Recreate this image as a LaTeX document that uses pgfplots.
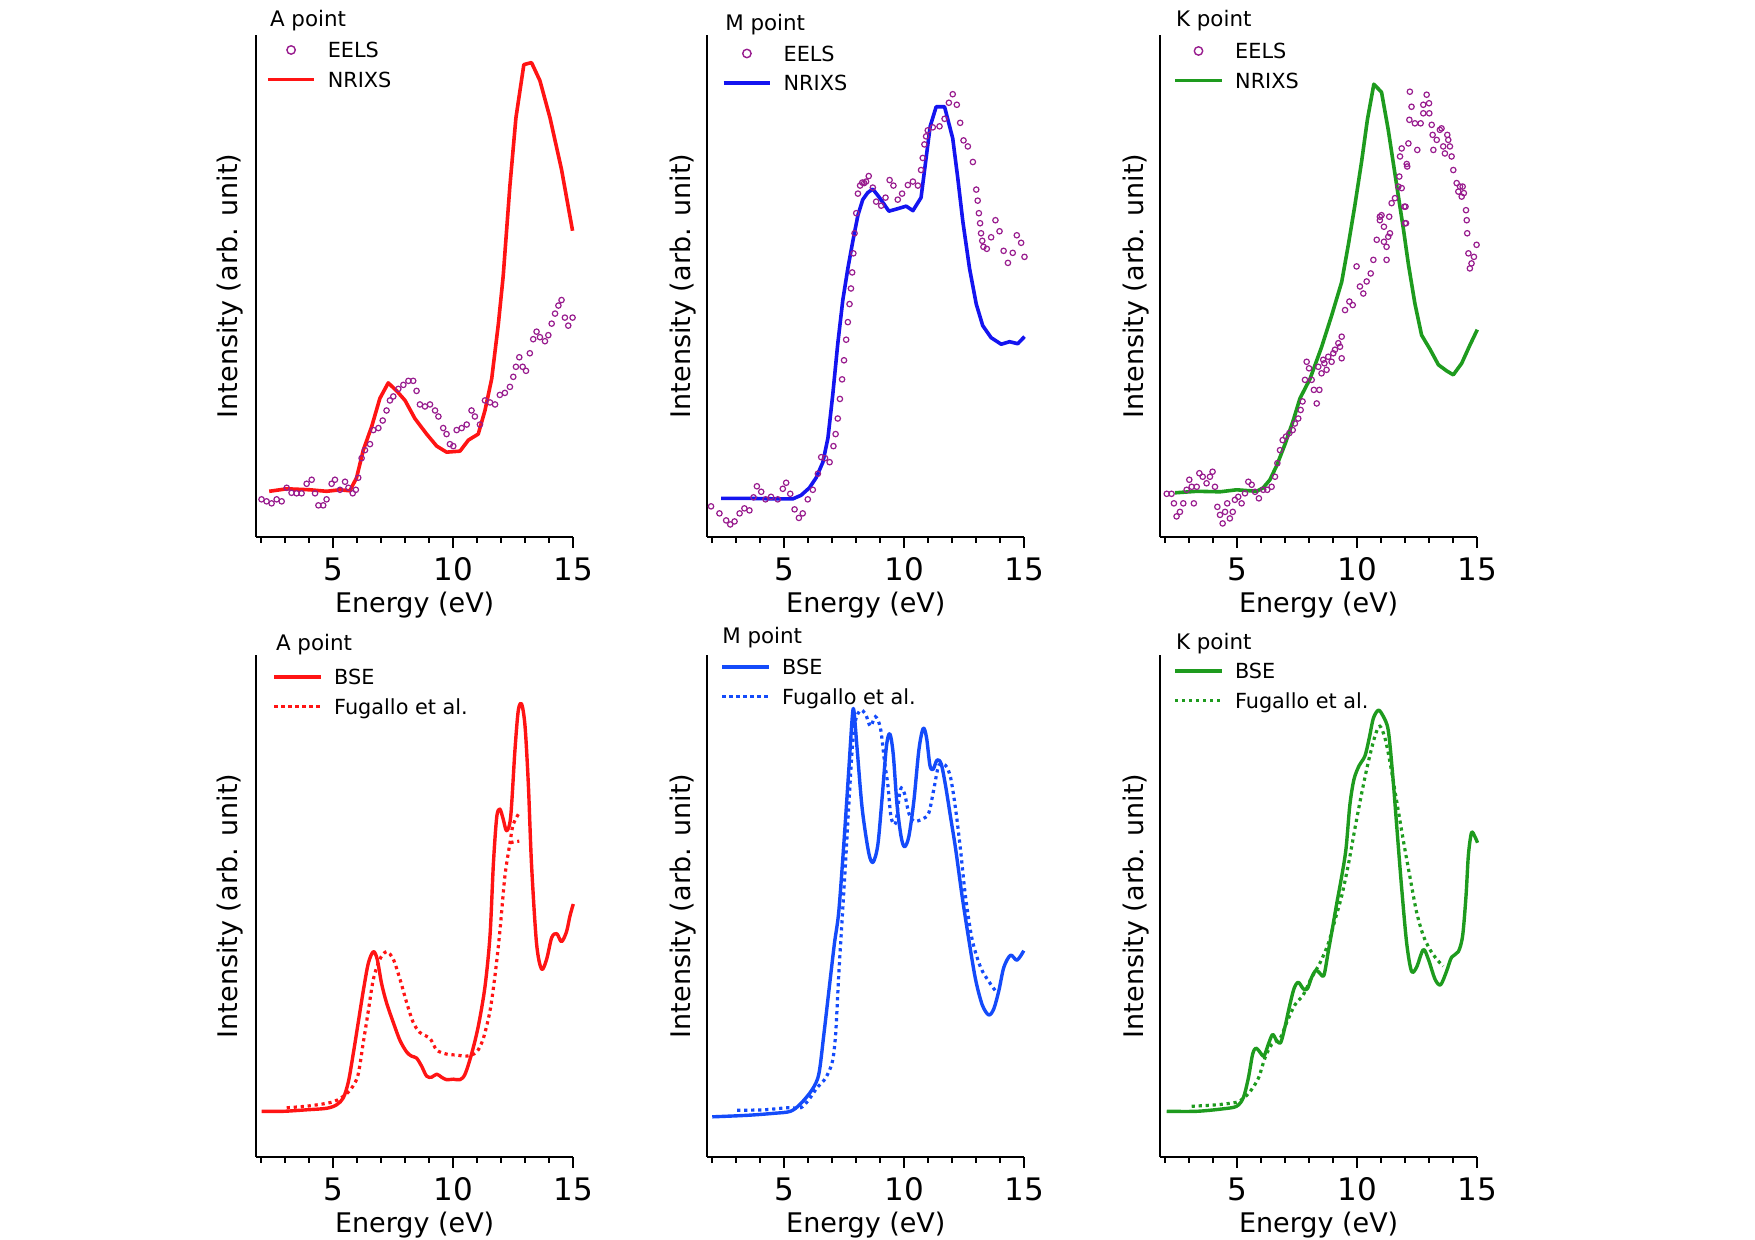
\documentclass[border=0pt]{standalone}
\usepackage{fontspec}
\setmainfont{DejaVu Sans}
\usepackage{pgfplots}
\pgfplotsset{compat=1.18}

\definecolor{eels}{RGB}{152,28,142}
\definecolor{cred}{RGB}{255,20,20}
\definecolor{cblueA}{RGB}{20,20,240}
\definecolor{cblueB}{RGB}{20,75,250}
\definecolor{cgreen}{RGB}{30,155,30}

\newcommand\legfont{\fontsize{10.4}{12}\selectfont}
\newcommand\titlefont{\fontsize{10.7}{12}\selectfont}
\newcommand\labfont{\fontsize{13.5}{16}\selectfont}
\newcommand\tickfont{\fontsize{15.5}{18}\selectfont}

\pgfplotsset{
  panel/.style={
    scale only axis, width=158.64pt, height=251pt,
    xmin=1.78, xmax=15, ymin=0, ymax=100,
    axis x line=bottom, axis y line=left,
    axis line style={-, line width=1.1pt, black},
    xtick={5,10,15}, minor xtick={2,3,4,6,7,8,9,11,12,13,14}, ytick=\empty,
    tick align=outside, major tick length=5.5pt, minor tick length=3pt,
    tick style={line width=1pt, black},
    /pgf/number format/assume math mode=true,
    xticklabel style={font=\tickfont, anchor=base, yshift=-16.5pt},
    every axis x label/.style={at={(rel axis cs:0.5,0)}, anchor=base, yshift=-37.7pt, font=\labfont},
    xlabel={Energy (eV)},
    ylabel={Intensity (arb. unit)},
    clip=false,
    legend cell align=left,
    legend image code/.code={\draw[##1] (0pt,0pt) -- (23.3pt,0pt);},
    legend style={draw=none, fill=none, at={(rel axis cs:0,1)}, anchor=north west,
      inner sep=0pt, outer sep=0pt, row sep=7.15pt, column sep=5.8pt, font=\legfont,
      nodes={inner sep=0pt, text height=7.6pt, text depth=0pt}},
  },
  ylab/.style={every axis y label/.style={at={(rel axis cs:0,0.5)}, xshift=-#1, rotate=90, anchor=base, font=\labfont}},
  eelsplot/.style={only marks, mark=o, mark size=1.35pt, line width=0.6pt, color=eels,
    legend image code/.code={\path[draw=none] (0pt,-2.6pt) rectangle (23.3pt,2.6pt);
      \draw[draw=eels, line width=0.7pt] (11.65pt,0pt) circle[radius=2.1pt];}},
  solidA/.style={line width=1.8pt, line join=round},
  solidB/.style={line width=1.7pt, smooth, tension=0.5, line join=round},
  dotB/.style={line width=1.6pt, smooth, tension=0.5, dash pattern=on 1.6pt off 1.9pt},
}

\begin{document}
\begin{tikzpicture}
\useasboundingbox (0,0) rectangle (877.5pt,620pt);

% ---------- A point, experiment ----------
\begin{axis}[panel, ylab=9.5pt, at={(128pt,351.5pt)}, anchor=south west,
  legend style={xshift=5pt, yshift=-3.7pt}]
\addplot[eelsplot] coordinates {
(2.01,7.5)(2.22,7.1)(2.43,6.7)(2.64,7.5)(2.85,7.1)(3.06,9.8)(3.26,8.8)(3.47,8.7)(3.68,8.7)
(3.89,10.6)(4.1,11.4)(4.24,8.7)(4.38,6.3)(4.58,6.3)(4.72,7.5)(4.93,10.6)(5.07,11.4)(5.28,9.4)
(5.49,11.0)(5.63,9.8)(5.81,8.7)(5.94,9.4)(6.04,11.8)(6.18,15.7)(6.32,17.3)(6.53,18.5)(6.67,21.3)
(6.88,21.7)(7.06,23.2)(7.22,25.2)(7.36,27.2)(7.5,28.0)(7.71,29.5)(7.92,30.3)(8.13,31.1)(8.33,31.1)
(8.47,29.1)(8.61,26.4)(8.82,26.0)(9.03,26.4)(9.24,25.2)(9.38,24.0)(9.58,21.7)(9.72,20.5)(9.86,18.5)
(10.0,18.1)(10.14,21.3)(10.35,21.7)(10.56,22.4)(10.76,25.2)(10.9,24.0)(11.11,22.4)(11.32,27.2)
(11.53,26.8)(11.74,26.4)(11.94,28.3)(12.15,28.7)(12.36,29.9)(12.5,31.9)(12.61,33.9)(12.75,35.8)
(12.89,33.9)(13.03,33.1)(13.19,36.6)(13.33,39.4)(13.47,40.9)(13.61,39.8)(13.82,39.0)(13.96,40.2)
(14.1,42.5)(14.24,44.5)(14.38,46.1)(14.51,47.2)(14.65,43.7)(14.79,42.1)(14.97,43.7)
};
\addlegendentry{EELS}
\addplot[solidA, cred] coordinates {
(2.33,9.1)(3.06,9.6)(4.03,9.4)(4.72,9.1)(5.28,9.4)(5.69,9.2)(5.97,11.8)(6.25,17.3)(6.6,22.0)
(6.94,27.6)(7.29,30.7)(7.64,29.1)(7.99,27.2)(8.4,23.6)(8.89,20.5)(9.31,18.1)(9.72,16.9)(10.28,17.1)
(10.63,19.3)(11.04,20.5)(11.32,25.2)(11.6,31.5)(11.88,42.5)(12.08,52.0)(12.36,70.0)(12.61,83.5)
(12.94,94.1)(13.26,94.5)(13.61,90.9)(14.03,83.5)(14.51,73.2)(14.97,61.0)
};
\addlegendentry{NRIXS}
\node[anchor=west, font=\titlefont, xshift=3.5pt, yshift=7pt] at (rel axis cs:0,1) {A point};
\end{axis}

% ---------- M point, experiment ----------
\begin{axis}[panel, ylab=8.3pt, at={(353.6pt,351.5pt)}, anchor=south west,
  legend style={xshift=7.3pt, yshift=-5.45pt}]
\addplot[eelsplot] coordinates {
(1.94,6.1)(2.29,4.7)(2.57,3.3)(2.74,2.5)(2.92,3.1)(3.13,4.7)(3.33,5.7)(3.54,5.3)(3.71,7.9)(3.85,10.1)
(4.03,9.0)(4.21,7.5)(4.44,8.0)(4.72,7.5)(4.93,9.6)(5.07,10.8)(5.24,8.6)(5.42,5.5)(5.6,3.8)(5.76,4.7)
(5.97,7.5)(6.18,9.4)(6.39,12.6)(6.53,15.9)(6.69,15.7)(6.88,14.9)(7.04,18.1)(7.13,20.5)(7.22,23.6)
(7.31,27.5)(7.4,31.4)(7.48,35.2)(7.57,39.3)(7.64,42.8)(7.71,46.4)(7.77,49.5)(7.82,52.7)(7.87,56.5)
(7.92,60.5)(7.99,64.5)(8.06,68.4)(8.15,70.0)(8.24,70.6)(8.32,70.5)(8.4,70.8)(8.51,71.9)(8.68,69.6)
(8.82,66.8)(9.03,66.0)(9.21,67.6)(9.38,71.1)(9.54,70.0)(9.72,67.2)(9.9,68.4)(10.14,70.1)(10.35,70.8)
(10.56,70.0)(10.69,73.1)(10.76,75.5)(10.83,78.2)(10.9,79.8)(10.97,81.0)(11.18,81.6)(11.46,81.8)
(11.67,83.3)(11.85,86.5)(12.01,88.2)(12.18,86.1)(12.32,82.5)(12.46,79.0)(12.64,77.8)(12.85,74.7)
(12.99,69.2)(13.05,67.0)(13.1,64.5)(13.15,62.5)(13.19,60.5)(13.24,59.0)(13.29,57.8)(13.43,57.4)
(13.61,59.7)(13.79,63.1)(13.96,60.9)(14.13,57.0)(14.31,54.6)(14.51,56.6)(14.68,60.1)(14.86,58.6)
(15.0,55.8)
};
\addlegendentry{EELS}
\addplot[solidA, cblueA] coordinates {
(2.36,7.7)(3.4,7.7)(4.51,7.6)(5.35,7.6)(5.69,8.3)(6.04,9.8)(6.32,11.8)(6.6,14.9)(6.81,19.7)(7.01,28.3)
(7.22,38.5)(7.43,47.2)(7.64,53.5)(7.85,59.0)(8.06,64.1)(8.26,67.2)(8.47,68.6)(8.68,69.3)(8.96,67.6)
(9.35,64.9)(9.72,65.4)(10.07,65.9)(10.35,65.0)(10.69,67.6)(10.88,74.7)(11.07,81.8)(11.32,85.7)
(11.67,85.7)(12.01,79.4)(12.22,71.5)(12.43,62.9)(12.71,53.5)(12.99,46.4)(13.26,42.1)(13.61,39.7)
(14.03,38.4)(14.38,38.9)(14.72,38.5)(15.0,39.9)
};
\addlegendentry{NRIXS}
\node[anchor=west, font=\titlefont, xshift=5.5pt, yshift=5.2pt] at (rel axis cs:0,1) {M point};
\end{axis}

% ---------- K point, experiment ----------
\begin{axis}[panel, ylab=8.3pt, at={(580pt,351.5pt)}, anchor=south west,
  legend style={xshift=6.7pt, yshift=-4.2pt}]
\addplot[eelsplot] coordinates {
(2.06,8.6)(2.26,8.6)(2.36,6.7)(2.47,4.1)(2.61,5.0)(2.75,6.7)(2.89,9.4)(3.0,11.4)(3.1,10.0)(3.19,6.7)
(3.31,10.0)(3.42,12.7)(3.56,12.0)(3.72,10.7)(3.86,12.0)(3.97,13.0)(4.07,10.0)(4.17,6.0)(4.28,4.4)
(4.39,2.7)(4.49,5.0)(4.58,6.7)(4.69,3.7)(4.81,5.0)(4.9,7.4)(5.04,8.0)(5.18,6.7)(5.32,8.7)(5.46,11.0)
(5.6,10.4)(5.74,9.0)(5.9,7.7)(6.08,9.4)(6.25,9.4)(6.43,10.0)(6.57,12.0)(6.67,14.7)(6.78,17.3)
(6.89,19.3)(7.03,20.0)(7.17,20.7)(7.31,21.3)(7.4,22.6)(7.54,23.6)(7.64,25.3)(7.72,27.0)(7.82,31.3)
(7.89,34.9)(7.99,33.6)(8.1,31.3)(8.19,29.3)(8.31,26.6)(8.375,33.9)(8.42,29.3)(8.51,32.6)(8.58,35.3)
(8.63,34.6)(8.72,33.3)(8.79,35.9)(8.93,34.9)(9.0,36.6)(9.07,37.3)(9.21,38.6)(9.28,37.9)(9.35,39.9)
(9.35,35.6)(9.49,45.2)(9.67,46.9)(9.81,46.2)(9.97,53.9)(10.11,49.9)(10.25,48.5)(10.39,50.9)
(10.56,52.5)(10.67,55.2)(10.81,59.2)(10.94,63.1)(10.94,63.8)(11.01,64.1)(11.11,61.8)(11.11,58.8)
(11.22,57.8)(11.22,55.2)(11.29,59.8)(11.33,63.8)(11.36,60.5)(11.43,66.5)(11.57,67.5)(11.71,69.8)
(11.75,71.8)(11.78,75.8)(11.85,77.4)(11.85,69.5)(11.96,65.8)(11.99,62.5)(12.01,65.8)(12.03,62.5)
(12.06,74.3)(12.08,73.8)(12.13,78.4)(12.17,83.1)(12.19,88.7)(12.26,85.7)(12.4,82.4)(12.5,77.1)
(12.64,82.4)(12.75,86.1)(12.75,84.4)(12.89,88.1)(12.99,86.4)(13.0,84.4)(13.1,82.1)(13.14,80.1)
(13.17,77.1)(13.31,79.1)(13.44,81.1)(13.51,81.4)(13.58,77.8)(13.65,76.4)(13.75,80.1)(13.79,79.1)
(13.86,77.8)(13.93,75.8)(14.0,73.1)(14.14,70.5)(14.21,68.8)(14.28,69.8)(14.35,67.8)(14.39,69.8)
(14.44,68.5)(14.53,65.1)(14.56,63.1)(14.58,60.5)(14.63,56.5)(14.69,53.5)(14.76,54.5)(14.86,55.8)
(14.97,58.2)
};
\addlegendentry{EELS}
\addplot[solidA, cgreen] coordinates {
(2.4,8.8)(3.31,9.1)(4.28,9.0)(4.97,9.4)(5.81,9.1)(6.08,9.8)(6.36,11.4)(6.64,14.2)(6.99,18.5)(7.33,23.2)
(7.61,27.6)(8.03,31.5)(8.51,37.8)(8.93,44.1)(9.35,50.8)(9.63,58.3)(9.9,66.1)(10.18,74.8)(10.42,83.1)
(10.69,90.2)(11.01,88.6)(11.29,81.1)(11.64,70.1)(11.92,61.4)(12.13,54.3)(12.4,46.5)(12.68,40.2)
(13.03,37.4)(13.38,34.3)(13.72,33.1)(14.0,32.3)(14.35,34.6)(14.69,38.2)(15.0,41.3)
};
\addlegendentry{NRIXS}
\node[anchor=west, font=\titlefont, xshift=4.5pt, yshift=7pt] at (rel axis cs:0,1) {K point};
\end{axis}

% ---------- A point, theory ----------
\begin{axis}[panel, ylab=9.5pt, at={(128pt,41.5pt)}, anchor=south west,
  legend style={xshift=8.3pt, yshift=-7.2pt}]
\addplot[solidB, cred] coordinates {
(2.01,9.1)(2.92,9.1)(3.89,9.4)(4.72,9.7)(5.14,10.4)(5.42,11.8)(5.63,15.0)(5.83,20.5)(6.04,26.8)
(6.25,33.1)(6.46,38.6)(6.67,40.9)(6.83,39.4)(7.01,34.6)(7.22,30.7)(7.5,26.8)(7.78,23.2)(8.06,20.9)
(8.26,20.1)(8.47,19.7)(8.68,18.1)(8.89,16.1)(9.1,15.9)(9.31,16.5)(9.51,15.9)(9.72,15.4)(10.0,15.5)
(10.28,15.4)(10.49,16.5)(10.76,20.5)(11.04,26.0)(11.32,33.9)(11.53,44.1)(11.67,58.3)(11.81,67.7)
(11.94,69.3)(12.08,67.3)(12.22,65.0)(12.39,67.7)(12.57,81.1)(12.71,89.0)(12.85,90.2)(12.99,85.8)
(13.13,74.0)(13.26,58.3)(13.47,42.5)(13.68,37.4)(13.89,39.4)(14.1,43.7)(14.31,44.5)(14.51,42.9)
(14.72,44.9)(14.86,48.0)(15.0,50.4)
};
\addlegendentry{BSE}
\addplot[dotB, cred] coordinates {
(3.06,9.8)(4.03,10.2)(5.0,11.0)(5.56,12.6)(5.83,14.2)(6.04,16.5)(6.25,22.8)(6.46,29.1)(6.67,35.4)
(6.94,39.4)(7.22,40.9)(7.5,39.4)(7.78,35.4)(8.06,30.7)(8.33,26.8)(8.61,24.8)(9.03,23.6)(9.31,21.3)
(9.72,20.5)(10.14,20.3)(10.56,20.1)(10.97,20.9)(11.25,23.6)(11.53,29.1)(11.74,36.2)(11.94,44.9)
(12.15,55.9)(12.36,62.5)(12.5,66.3)(12.78,68.8)
};
\addlegendentry{Fugallo et al.}
\addplot[dotB, cred, forget plot] coordinates {(12.38,62.6)(12.55,62.8)(12.75,62.9)};
\node[anchor=west, font=\titlefont, xshift=6.5pt, yshift=5pt] at (rel axis cs:0,1) {A point};
\end{axis}

% ---------- M point, theory ----------
\begin{axis}[panel, ylab=8.3pt, at={(353.6pt,41.5pt)}, anchor=south west,
  legend style={xshift=6.7pt, yshift=-2.2pt}]
\addplot[solidB, cblueB] coordinates {
(1.99,8.0)(3.44,8.3)(4.56,8.7)(5.25,9.1)(5.67,10.6)(6.15,13.4)(6.43,16.5)(6.64,24.4)(6.85,33.1)
(7.08,42.5)(7.26,48.8)(7.47,62.2)(7.68,77.2)(7.82,87.4)(7.89,89.0)(8.03,81.1)(8.24,69.3)(8.51,60.6)
(8.69,58.7)(8.89,62.2)(9.07,71.7)(9.25,81.9)(9.39,84.3)(9.53,80.3)(9.69,70.1)(9.86,63.8)(10.0,61.8)
(10.18,63.8)(10.39,70.9)(10.6,81.1)(10.78,85.4)(10.92,83.5)(11.06,78.0)(11.19,77.2)(11.36,79.1)
(11.53,78.3)(11.71,74.0)(11.92,67.7)(12.13,61.4)(12.4,52.0)(12.68,43.3)(12.96,35.4)(13.24,30.3)
(13.51,28.3)(13.72,29.5)(13.93,33.1)(14.14,37.8)(14.42,40.2)(14.69,39.2)(14.97,41.1)
};
\addlegendentry{BSE}
\addplot[dotB, cblueB] coordinates {
(3.03,9.3)(4.14,9.4)(5.11,9.8)(5.67,9.8)(6.01,11.4)(6.36,13.8)(6.71,15.7)(6.99,18.9)(7.13,24.4)
(7.26,36.2)(7.4,47.2)(7.54,58.3)(7.68,70.1)(7.82,81.1)(7.96,87.0)(8.17,89.0)(8.38,88.2)(8.58,85.8)
(8.79,87.7)(9.0,85.4)(9.17,78.7)(9.31,74.0)(9.44,67.7)(9.63,66.5)(9.83,73.2)(10.0,72.4)(10.18,68.5)
(10.39,66.9)(10.74,67.3)(11.01,68.5)(11.22,73.2)(11.43,78.0)(11.71,78.0)(11.92,75.6)(12.13,69.3)
(12.33,61.4)(12.54,52.0)(12.82,43.3)(13.17,37.8)(13.51,35.0)(13.79,33.1)
};
\addlegendentry{Fugallo et al.}
\node[anchor=west, font=\titlefont, xshift=4pt, yshift=8.8pt] at (rel axis cs:0,1) {M point};
\end{axis}

% ---------- K point, theory ----------
\begin{axis}[panel, ylab=8.3pt, at={(580pt,41.5pt)}, anchor=south west,
  legend style={xshift=6.7pt, yshift=-4.2pt}]
\addplot[solidB, cgreen] coordinates {
(2.06,9.1)(3.31,9.1)(4.42,9.6)(4.97,10.1)(5.25,11.8)(5.46,15.7)(5.64,20.5)(5.78,21.7)(5.94,20.9)
(6.11,20.1)(6.29,22.4)(6.47,24.4)(6.64,23.2)(6.81,22.8)(6.99,26.0)(7.17,29.9)(7.36,33.5)(7.54,34.8)
(7.75,33.5)(7.92,33.5)(8.1,35.8)(8.28,37.2)(8.44,36.6)(8.61,36.2)(8.79,40.9)(8.97,45.7)(9.14,50.4)
(9.35,55.9)(9.53,61.4)(9.69,70.1)(9.86,75.2)(10.08,78.0)(10.32,79.9)(10.5,83.5)(10.67,87.4)
(10.88,89.0)(11.08,87.8)(11.29,85.0)(11.47,76.4)(11.64,66.1)(11.85,53.5)(12.06,42.5)(12.26,37.0)
(12.47,37.8)(12.75,41.3)(12.96,39.4)(13.24,35.4)(13.47,34.3)(13.72,37.0)(13.93,39.8)(14.21,40.9)
(14.39,44.1)(14.53,52.0)(14.63,60.2)(14.76,64.6)(14.9,63.8)(15.01,62.6)
};
\addlegendentry{BSE}
\addplot[dotB, cgreen] coordinates {
(3.1,10.1)(4.14,10.4)(4.97,10.9)(5.25,11.7)(5.53,13.0)(5.88,15.7)(6.15,19.7)(6.43,22.4)(6.78,23.6)
(7.06,26.8)(7.4,30.3)(7.75,32.3)(8.1,35.8)(8.44,38.6)(8.79,42.5)(9.07,47.2)(9.35,52.0)(9.63,58.3)
(9.9,65.4)(10.18,72.4)(10.46,78.7)(10.74,83.9)(10.94,85.8)(11.15,83.5)(11.36,78.7)(11.64,70.9)
(11.92,63.0)(12.19,55.9)(12.47,48.8)(12.75,44.1)(13.03,41.3)(13.31,39.4)(13.58,38.0)
};
\addlegendentry{Fugallo et al.}
\node[anchor=west, font=\titlefont, xshift=4.5pt, yshift=5.9pt] at (rel axis cs:0,1) {K point};
\end{axis}
\end{tikzpicture}
\end{document}
